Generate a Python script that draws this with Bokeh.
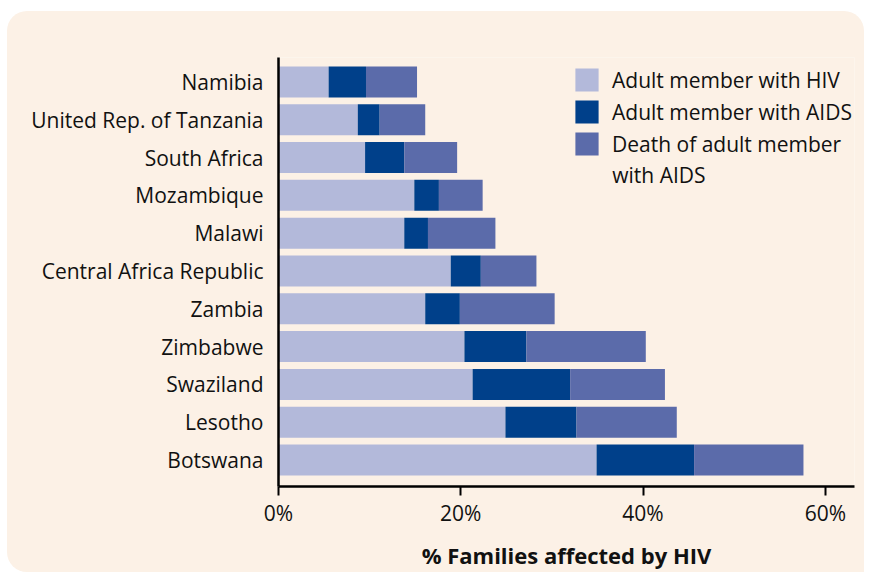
from bokeh.plotting import figure
from bokeh.models import (Range1d, FixedTicker, ColumnDataSource, PrintfTickFormatter, Label)
from bokeh.embed import file_html
from bokeh.resources import INLINE

countries = ["Namibia", "United Rep. of Tanzania", "South Africa", "Mozambique", "Malawi",
             "Central Africa Republic", "Zambia", "Zimbabwe", "Swaziland", "Lesotho", "Botswana"]
adult_hiv = [5.5, 8.7, 9.5, 14.9, 13.8, 18.9, 16.1, 20.4, 21.3, 24.9, 34.9]
adult_aids = [4.1, 2.4, 4.3, 2.7, 2.6, 3.3, 3.8, 6.8, 10.7, 7.8, 10.7]
death_aids = [5.6, 5.0, 5.8, 4.8, 7.4, 6.1, 10.4, 13.1, 10.4, 11.0, 12.0]
series_labels = ["Adult member with HIV", "Adult member with AIDS", "Death of adult member"]
series_label_cont = "with AIDS"
x_ticks = [0, 20, 40, 60]

colors = ["#B3B9DA", "#00408A", "#5B6BAA"]
PANEL = "#FCF1E6"
FONT = "Open Sans"
TXT = "#111111"

W, H = 864, 572
n = len(countries)
ypos = [n - 1 - i for i in range(n)]
source = ColumnDataSource(dict(y=ypos, country=countries, hiv=adult_hiv, aids=adult_aids, death=death_aids))

p = figure(width=W, height=H, output_backend="svg", toolbar_location=None,
           x_range=Range1d(0, 63.2), y_range=Range1d(-0.70, n - 1 + 0.645),
           min_border_left=278, min_border_right=10, min_border_top=57, min_border_bottom=84)
p.background_fill_color = PANEL
p.border_fill_color = PANEL
p.outline_line_color = None
p.grid.visible = False
# rounded panel: clip the top/left white margin with rounded corners
p.styles = {"clip-path": "inset(11px 0px 0px 7px round 20px 20px 0px 20px)"}

p.hbar_stack(["hiv", "aids", "death"], y="y", height=0.82, color=colors, line_color=None,
             source=source, legend_label=series_labels)

# x axis
xa = p.xaxis[0]
xa.ticker = FixedTicker(ticks=x_ticks)
xa.formatter = PrintfTickFormatter(format="%d%%")
xa.axis_line_width = 2.5
xa.axis_line_color = "black"
xa.major_tick_line_width = 2
xa.major_tick_in = 0
xa.major_tick_out = 9
xa.minor_tick_line_color = None
xa.major_label_text_font = FONT
xa.major_label_text_font_size = "21px"
xa.major_label_text_color = TXT
xa.major_label_standoff = 3
xa.axis_label = "% Families affected by HIV"
xa.axis_label_text_font = FONT
xa.axis_label_text_font_style = "bold"
xa.axis_label_text_font_size = "22px"
xa.axis_label_text_color = TXT
xa.axis_label_standoff = 10

# y axis
ya = p.yaxis[0]
ya.ticker = FixedTicker(ticks=ypos)
ya.major_label_overrides = {y: c for y, c in zip(ypos, countries)}
ya.axis_line_width = 2.5
ya.axis_line_color = "black"
ya.major_tick_line_color = None
ya.minor_tick_line_color = None
ya.major_label_text_font = FONT
ya.major_label_text_font_size = "21px"
ya.major_label_text_color = TXT
ya.major_label_standoff = 9

lg = p.legend[0]
lg.location = (294, 328)
lg.glyph_width = 29
lg.glyph_height = 29
lg.label_height = 29
lg.spacing = 3
lg.padding = 0
lg.margin = 0
lg.label_standoff = 11
lg.border_line_color = None
lg.background_fill_alpha = 0
lg.label_text_font = FONT
lg.label_text_font_size = "21px"
lg.label_text_color = TXT

# second line of the third legend label
cont = Label(x=36.62, y=7.537, text=series_label_cont, text_font=FONT,
             text_font_size="21px", text_color=TXT, text_baseline="alphabetic")
p.add_layout(cont)

open("out.html", "w").write(file_html(p, INLINE))
